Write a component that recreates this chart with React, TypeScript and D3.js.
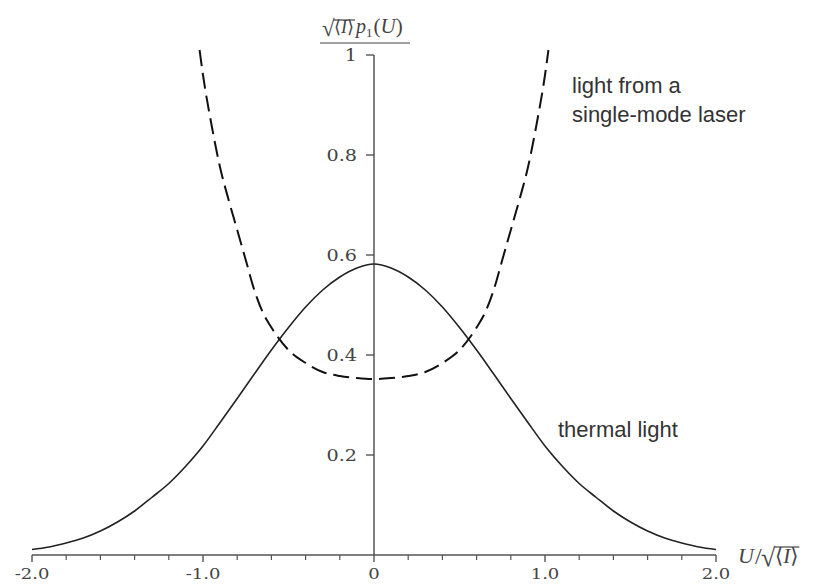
import React, { useEffect, useRef } from "react";
import * as d3 from "d3";

// thermal light curve
const thermalU = [
  -2.0, -1.9, -1.8, -1.7, -1.6, -1.5, -1.4, -1.3, -1.2, -1.1, -1.0, -0.9, -0.8, -0.7, -0.6, -0.5, -0.4, -0.3, -0.2, -0.1,
  0, 0.1, 0.2, 0.3, 0.4, 0.5, 0.6, 0.7, 0.8, 0.9, 1.0, 1.1, 1.2, 1.3, 1.4, 1.5, 1.6, 1.7, 1.8, 1.9, 2.0,
];
const thermalP = [
  0.011, 0.016, 0.024, 0.034, 0.048, 0.066, 0.088, 0.115, 0.143, 0.178, 0.218, 0.265, 0.313, 0.362, 0.41, 0.455, 0.496,
  0.53, 0.556, 0.574, 0.582, 0.574, 0.556, 0.53, 0.496, 0.455, 0.41, 0.362, 0.313, 0.265, 0.218, 0.178, 0.143, 0.115,
  0.088, 0.066, 0.048, 0.034, 0.024, 0.016, 0.011,
];

// single-mode laser curve (dashed)
const laserU = [
  -1.02, -1.0, -0.95, -0.9, -0.85, -0.8, -0.75, -0.7, -0.65, -0.6, -0.5, -0.4, -0.3, -0.2, -0.1, 0, 0.1, 0.2, 0.3, 0.4,
  0.5, 0.6, 0.65, 0.7, 0.75, 0.8, 0.85, 0.9, 0.95, 1.0, 1.02,
];
const laserP = [
  1.01, 0.96, 0.86, 0.775, 0.71, 0.65, 0.59, 0.53, 0.485, 0.455, 0.41, 0.384, 0.366, 0.358, 0.354, 0.352, 0.354, 0.358,
  0.366, 0.384, 0.41, 0.455, 0.485, 0.53, 0.59, 0.65, 0.71, 0.775, 0.86, 0.96, 1.01,
];

// tick labels
const xMajor = [-2, -1, 0, 1, 2];
const xMajorLabels = ["-2.0", "-1.0", "0", "1.0", "2.0"];
const xMinor = [-1.8, -1.6, -1.4, -1.2, -0.8, -0.6, -0.4, -0.2, 0.2, 0.4, 0.6, 0.8, 1.2, 1.4, 1.6, 1.8];
const yTicks = [0.2, 0.4, 0.6, 0.8, 1];
const yTickLabels = ["0.2", "0.4", "0.6", "0.8", "1"];

export default function App() {
  const svgRef = useRef<SVGSVGElement | null>(null);

  useEffect(() => {
    const svg = d3.select(svgRef.current);
    svg.selectAll("*").remove();

    const width = 813;
    const height = 585;
    svg.attr("width", width).attr("height", height);

    const axisColor = "#555";
    const textColor = "#444";
    const serif = "'Liberation Serif', 'DejaVu Serif', serif";
    const numFont = "'DejaVu Serif', serif";
    const sans = "'Liberation Sans', Arial, sans-serif";

    // scales
    const x = d3.scaleLinear().domain([-2, 2]).range([32, 716]);
    const y = d3.scaleLinear().domain([0, 1]).range([555, 55]);
    const x0 = x(0);
    const y0 = y(0);

    // x axis line + ticks
    svg.append("line")
      .attr("x1", x(-2)).attr("x2", x(2))
      .attr("y1", y0).attr("y2", y0)
      .attr("stroke", axisColor).attr("stroke-width", 1.5);

    svg.selectAll(".xminor")
      .data(xMinor)
      .enter().append("line")
      .attr("x1", (d) => x(d)).attr("x2", (d) => x(d))
      .attr("y1", y0).attr("y2", y0 + 5)
      .attr("stroke", axisColor).attr("stroke-width", 1.2);

    svg.selectAll(".xmajor")
      .data(xMajor)
      .enter().append("line")
      .attr("x1", (d) => x(d)).attr("x2", (d) => x(d))
      .attr("y1", y0).attr("y2", y0 + 7)
      .attr("stroke", axisColor).attr("stroke-width", 1.4);

    svg.selectAll(".xlabel")
      .data(xMajor)
      .enter().append("text")
      .attr("transform", (d) => `translate(${x(d)},579) scale(1.2,1)`)
      .attr("text-anchor", "middle")
      .attr("font-family", numFont)
      .attr("font-size", 15)
      .attr("fill", textColor)
      .text((d, i) => xMajorLabels[i]);

    // y axis line + ticks
    svg.append("line")
      .attr("x1", x0).attr("x2", x0)
      .attr("y1", y0).attr("y2", y(1))
      .attr("stroke", axisColor).attr("stroke-width", 1.5);

    svg.selectAll(".ytick")
      .data(yTicks)
      .enter().append("line")
      .attr("x1", x0 - 8).attr("x2", x0)
      .attr("y1", (d) => y(d)).attr("y2", (d) => y(d))
      .attr("stroke", axisColor).attr("stroke-width", 1.4);

    svg.selectAll(".ylabel")
      .data(yTicks)
      .enter().append("text")
      .attr("transform", (d) => `translate(${x0 - 17},${y(d) + 6}) scale(1.2,1)`)
      .attr("text-anchor", "end")
      .attr("font-family", numFont)
      .attr("font-size", 16)
      .attr("fill", textColor)
      .text((d, i) => yTickLabels[i]);

    // helper: sqrt sign followed by <I> with an overline, returns right edge
    const sqrtI = (g: any, xs: number, base: number, size: number) => {
      const rad = g.append("text").attr("x", xs).attr("y", base + 3).attr("font-size", size + 5).text("√");
      const rb = (rad.node() as SVGTextElement).getBBox();
      const inner = g.append("text").attr("x", rb.x + rb.width - 1).attr("y", base).attr("font-size", size);
      inner.append("tspan").text("⟨");
      inner.append("tspan").attr("font-style", "italic").text("I");
      inner.append("tspan").text("⟩");
      const ib = (inner.node() as SVGTextElement).getBBox();
      g.append("line")
        .attr("x1", rb.x + rb.width - 1.5).attr("x2", ib.x + ib.width + 1)
        .attr("y1", rb.y + 4).attr("y2", rb.y + 4)
        .attr("stroke", textColor).attr("stroke-width", 1.2);
      return ib.x + ib.width;
    };

    // y axis title: sqrt<I> p1(U) over a bar
    const yt = svg.append("g").attr("fill", textColor).attr("font-family", serif);
    let cx = sqrtI(yt, 322, 33, 18) + 2;
    const p = yt.append("text").attr("x", cx).attr("y", 33).attr("font-size", 20).attr("font-style", "italic").text("p");
    cx = (p.node() as SVGTextElement).getBBox().x + (p.node() as SVGTextElement).getBBox().width;
    const sub = yt.append("text").attr("x", cx).attr("y", 37).attr("font-size", 13).text("1");
    cx = (sub.node() as SVGTextElement).getBBox().x + (sub.node() as SVGTextElement).getBBox().width + 1;
    const arg = yt.append("text").attr("x", cx).attr("y", 33).attr("font-size", 21);
    arg.append("tspan").text("(");
    arg.append("tspan").attr("font-style", "italic").text("U");
    arg.append("tspan").text(")");
    yt.append("line")
      .attr("x1", 320).attr("x2", 410).attr("y1", 43).attr("y2", 43)
      .attr("stroke", textColor).attr("stroke-width", 1.2);

    // x axis title: U / sqrt<I>
    const xt = svg.append("g").attr("fill", textColor).attr("font-family", serif);
    const u = xt.append("text").attr("x", 738).attr("y", 563).attr("font-size", 22).attr("font-style", "italic").text("U");
    const ux = (u.node() as SVGTextElement).getBBox();
    const sl = xt.append("text").attr("x", ux.x + ux.width - 1).attr("y", 564).attr("font-size", 24).text("/");
    const sb = (sl.node() as SVGTextElement).getBBox();
    sqrtI(xt, sb.x + sb.width - 1, 563, 21);

    // curves
    const thermal = d3.line<number>()
      .x((d, i) => x(thermalU[i]))
      .y((d) => y(d))
      .curve(d3.curveMonotoneX);

    const laser = d3.line<number>()
      .x((d, i) => x(laserU[i]))
      .y((d) => y(d))
      .curve(d3.curveMonotoneX);

    svg.append("path")
      .datum(thermalP)
      .attr("fill", "none")
      .attr("stroke", "#222")
      .attr("stroke-width", 1.6)
      .attr("d", thermal);

    svg.append("path")
      .datum(laserP)
      .attr("fill", "none")
      .attr("stroke", "#111")
      .attr("stroke-width", 2)
      .attr("stroke-dasharray", "16,7")
      .attr("d", laser);

    // annotations
    const ann = svg.append("g").attr("font-family", sans).attr("font-size", 22).attr("fill", "#333");
    ann.append("text").attr("x", 572).attr("y", 93).text("light from a");
    ann.append("text").attr("x", 572).attr("y", 122).text("single-mode laser");
    ann.append("text").attr("x", 558).attr("y", 437).text("thermal light");
  }, []);

  return (
    <svg ref={svgRef} style={{ position: "absolute", left: 0, top: 0, background: "#fff" }}></svg>
  );
}
